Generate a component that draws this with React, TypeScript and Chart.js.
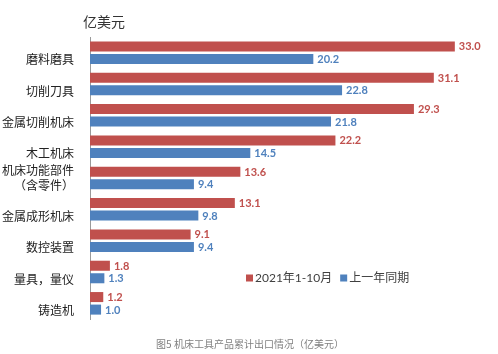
import React, { useEffect, useRef } from 'react';
import { Chart, registerables } from 'chart.js';

Chart.register(...registerables);

const categories: string[][] = [
  ['磨料磨具'],
  ['切削刀具'],
  ['金属切削机床'],
  ['木工机床'],
  ['机床功能部件', '（含零件）'],
  ['金属成形机床'],
  ['数控装置'],
  ['量具，量仪'],
  ['铸造机'],
];
const series2021 = [33.0, 31.1, 29.3, 22.2, 13.6, 13.1, 9.1, 1.8, 1.2];
const seriesPrev = [20.2, 22.8, 21.8, 14.5, 9.4, 9.8, 9.4, 1.3, 1.0];
const seriesNames = ['2021年1-10月', '上一年同期'];
const seriesColors = ['#C0504D', '#4F81BD'];
const unitTitle = '亿美元';
const caption = '图5 机床工具产品累计出口情况（亿美元）';

const W = 498;
const H = 354;

const overlayPlugin = {
  id: 'overlay',
  afterDatasetsDraw(chart: any) {
    const ctx = chart.ctx;
    ctx.save();
    // value labels
    chart.data.datasets.forEach((ds: any, di: number) => {
      const meta = chart.getDatasetMeta(di);
      ctx.font = 'bold 11px Lato, "Noto Sans", sans-serif';
      ctx.fillStyle = seriesColors[di];
      ctx.textAlign = 'left';
      ctx.textBaseline = 'middle';
      meta.data.forEach((el: any, i: number) => {
        ctx.fillText(Number(ds.data[i]).toFixed(1), el.x + 4, el.y + 0.5);
      });
    });
    // title
    ctx.font = '14px "Noto Sans CJK SC", sans-serif';
    ctx.fillStyle = '#333333';
    ctx.textAlign = 'left';
    ctx.textBaseline = 'middle';
    ctx.fillText(unitTitle, 83, 22);
    // legend
    ctx.font = '12px Lato, "Noto Sans CJK SC", sans-serif';
    let lx = 246;
    const ly = 278;
    chart.data.datasets.forEach((ds: any, di: number) => {
      ctx.fillStyle = seriesColors[di];
      ctx.fillRect(lx, ly - 3.5, 7, 7);
      ctx.fillStyle = '#404040';
      ctx.textBaseline = 'middle';
      ctx.fillText(ds.label, lx + 9, ly);
      lx += 9 + ctx.measureText(ds.label).width + 8;
    });
    // caption
    ctx.font = '10px "Noto Sans CJK SC", sans-serif';
    ctx.fillStyle = '#808080';
    ctx.textAlign = 'center';
    ctx.fillText(caption, 250, 344);
    ctx.restore();
  },
};

export default function App() {
  const ref = useRef<HTMLCanvasElement | null>(null);
  useEffect(() => {
    if (!ref.current) return;
    const chart = new Chart(ref.current, {
      type: 'bar',
      data: {
        labels: categories.map((c) => c.join('')),
        datasets: [
          { label: seriesNames[0], data: series2021, backgroundColor: seriesColors[0] },
          { label: seriesNames[1], data: seriesPrev, backgroundColor: seriesColors[1] },
        ],
      },
      options: {
        indexAxis: 'y',
        responsive: false,
        animation: false,
        layout: { padding: { left: 0, right: 10, top: 37, bottom: 35 } },
        datasets: { bar: { categoryPercentage: 0.8, barPercentage: 0.8 } },
        plugins: {
          legend: { display: false },
          tooltip: { enabled: false },
          title: { display: false },
        },
        scales: {
          x: { display: false, min: 0, max: 36 },
          y: {
            afterFit: (s: any) => {
              s.width = 90;
            },
            grid: { display: false },
            border: { display: true, color: '#9a9a9a', width: 1 },
            ticks: {
              autoSkip: false,
              padding: 8,
              color: '#222222',
              font: { size: 12, family: '"Noto Sans CJK SC", sans-serif', lineHeight: 1.2 },
              callback: (_v: any, i: number) => {
                const c = categories[i];
                return c.length === 1 ? ['', c[0]] : c;
              },
            },
          },
        },
      },
      plugins: [overlayPlugin],
    });
    return () => chart.destroy();
  }, []);
  return (
    <div style={{ position: 'fixed', left: 0, top: 0, width: W, height: H, background: '#fff' }}>
      <canvas ref={ref} width={W} height={H} style={{ width: W, height: H }} />
    </div>
  );
}
